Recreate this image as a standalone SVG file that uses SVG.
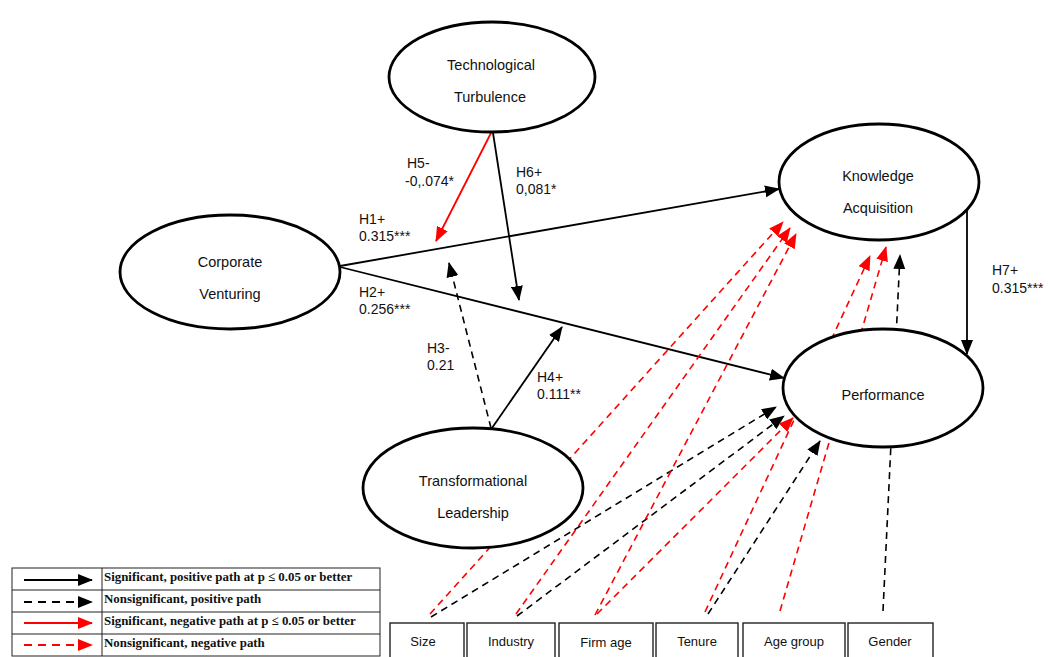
<svg xmlns="http://www.w3.org/2000/svg" width="1048" height="657" viewBox="0 0 1048 657">
<style>
.node ellipse{fill:#fff;stroke:#000;stroke-width:2.8}
.nt{font-family:"Liberation Sans",Arial,sans-serif;font-size:14.5px;fill:#111;text-anchor:middle}
.lbl{font-family:"Liberation Sans",Arial,sans-serif;font-size:14px;fill:#111}
.box rect{fill:#fff;stroke:#222;stroke-width:1.4}
.bt{font-family:"Liberation Sans",Arial,sans-serif;font-size:13px;fill:#111;text-anchor:middle}
.s{fill:none;stroke:#000;stroke-width:1.8}
.sr{fill:none;stroke:#f00;stroke-width:1.8}
.d{fill:none;stroke:#000;stroke-width:1.6;stroke-dasharray:7 5}
.dr{fill:none;stroke:#f00;stroke-width:1.6;stroke-dasharray:7 5}
.k{marker-end:url(#ab)}
.r{marker-end:url(#ar)}
.lt{font-family:"Liberation Serif","Times New Roman",serif;font-size:12.9px;font-weight:bold;fill:#111}
</style>
<defs>
<marker id="ab" viewBox="0 0 15 12" refX="14" refY="6" markerWidth="15" markerHeight="12" markerUnits="userSpaceOnUse" orient="auto"><path d="M0,0 L15,6 L0,12 z" fill="#000"/></marker>
<marker id="ar" viewBox="0 0 15 12" refX="14" refY="6" markerWidth="15" markerHeight="12" markerUnits="userSpaceOnUse" orient="auto"><path d="M0,0 L15,6 L0,12 z" fill="#f00"/></marker>
</defs>
<rect width="1048" height="657" fill="#fff"/>
<g id="connectors">
<path class="s k" d="M340,266 L779,189"/>
<path class="s k" d="M340,267 L784,378"/>
<path class="sr r" d="M491,133 L436,241"/>
<path class="s k" d="M493,133 L519,300"/>
<path class="d k" d="M491,428 L449,263"/>
<path class="s k" d="M492,428 L562,327"/>
<path class="s k" d="M967,210 L967,354"/>
<path class="dr r" d="M430,614 L783,222"/>
<path class="d k" d="M431,617 L776,407"/>
<path class="dr r" d="M516,614 L790,228"/>
<path class="d k" d="M517,616 L784,416"/>
<path class="dr r" d="M595,615 L796,234"/>
<path class="dr r" d="M597,614 L793,418"/>
<path class="dr r" d="M705,612 L870,256"/>
<path class="d k" d="M708,614 L820,441"/>
<path class="dr r" d="M780,611 L886,247"/>
<path class="d k" d="M883,611 L900,255"/>
</g>
<g id="technological-turbulence" class="node"><ellipse cx="492" cy="77" rx="103" ry="55"/><text class="nt" x="491" y="70">Technological</text><text class="nt" x="490" y="102">Turbulence</text></g>
<g id="corporate-venturing" class="node"><ellipse cx="230" cy="272" rx="110" ry="57"/><text class="nt" x="230" y="267">Corporate</text><text class="nt" x="230" y="299">Venturing</text></g>
<g id="knowledge-acquisition" class="node"><ellipse cx="879" cy="182" rx="100" ry="58"/><text class="nt" x="878" y="181">Knowledge</text><text class="nt" x="878" y="213">Acquisition</text></g>
<g id="performance" class="node"><ellipse cx="883" cy="388" rx="100" ry="59"/><text class="nt" x="883" y="400">Performance</text></g>
<g id="transformational-leadership" class="node"><ellipse cx="473" cy="488" rx="110" ry="60"/><text class="nt" x="473" y="486">Transformational</text><text class="nt" x="473" y="518">Leadership</text></g>
<g id="labels">
<text class="lbl" x="407" y="168">H5-</text><text class="lbl" x="405" y="186">-0,.074*</text>
<text class="lbl" x="516" y="177">H6+</text><text class="lbl" x="516" y="194">0,081*</text>
<text class="lbl" x="359" y="224">H1+</text><text class="lbl" x="359" y="241">0.315***</text>
<text class="lbl" x="359" y="297">H2+</text><text class="lbl" x="359" y="314">0.256***</text>
<text class="lbl" x="427" y="353">H3-</text><text class="lbl" x="427" y="370">0.21</text>
<text class="lbl" x="537" y="382">H4+</text><text class="lbl" x="537" y="399">0.111**</text>
<text class="lbl" x="992" y="275">H7+</text><text class="lbl" x="992" y="293">0.315***</text>
</g>
<g id="size" class="box"><rect x="390" y="623" width="74" height="40"/><text class="bt" x="423" y="646">Size</text></g>
<g id="industry" class="box"><rect x="467" y="623" width="88" height="40"/><text class="bt" x="511" y="646">Industry</text></g>
<g id="firm-age" class="box"><rect x="559" y="623" width="94" height="40"/><text class="bt" x="606" y="647">Firm age</text></g>
<g id="tenure" class="box"><rect x="656" y="623" width="82" height="40"/><text class="bt" x="697" y="646">Tenure</text></g>
<g id="age-group" class="box"><rect x="743" y="623" width="102" height="40"/><text class="bt" x="794" y="646">Age group</text></g>
<g id="gender" class="box"><rect x="848" y="623" width="85" height="40"/><text class="bt" x="890" y="646">Gender</text></g>
<g id="legend">
<rect x="12" y="568" width="368" height="88" fill="#fff" stroke="#222" stroke-width="1"/>
<path d="M12,590 H380 M12,612 H380 M12,634 H380 M102,568 V656" stroke="#222" stroke-width="1" fill="none"/>
<path class="s k" d="M24,580 L92,580" style="stroke-width:2"/>
<path class="d k" d="M24,602 L92,602" style="stroke-width:2;stroke-dasharray:8 6"/>
<path class="sr r" d="M24,623 L92,623" style="stroke-width:2"/>
<path class="dr r" d="M24,645 L92,645" style="stroke-width:2;stroke-dasharray:8 6"/>
<text class="lt" x="104" y="581">Significant, positive path at p ≤ 0.05 or better</text>
<text class="lt" x="104" y="603">Nonsignificant, positive path</text>
<text class="lt" x="104" y="625">Significant, negative path at p ≤ 0.05 or better</text>
<text class="lt" x="104" y="647">Nonsignificant, negative path</text>
</g>
</svg>
